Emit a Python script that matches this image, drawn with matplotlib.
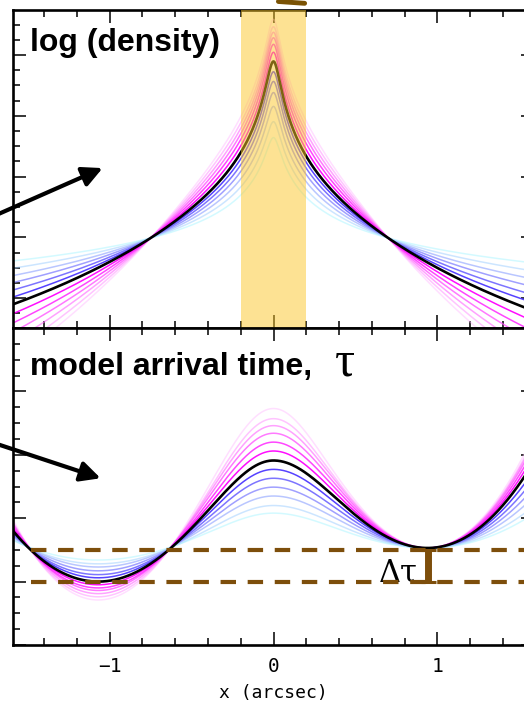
"""透镜模型：密度剖面族与对应的到达时间曲线。"""

import numpy as np
import matplotlib

matplotlib.use("Agg")
from matplotlib import pyplot as plt
from matplotlib.ticker import MultipleLocator

plt.rcParams["font.family"] = ["Liberation Sans", "DejaVu Sans"]

# 曲线族按顺序排列：最浅的品红（最陡）-> 黑色参考模型（第 7 条）-> 最浅的青色（最平）
# 上图：log(density) = 交点值 + 内部项 + 外部项
dens_inner_slope = [1.027, 1.020, 1.028, 1.035, 1.033, 1.021, 1.000,
                    0.959, 0.922, 0.876, 0.807, 0.729, 0.646]
dens_outer_slope = [3.06, 2.72, 2.35, 1.99, 1.65, 1.32, 1.00,
                    0.79, 0.58, 0.37, 0.21, 0.05, -0.10]
dens_core = 0.05
dens_break = 1.0
dens_cross = 0.99            # 所有剖面相交处的 log(density)
r_cross = [0.75, 0.70]       # 左右两侧相交半径 (arcsec)
band = [-0.2, 0.2]           # 黄色区域

# 下图：到达时间。A、B 两个像的位置，B 处所有曲线取同一值
x_img = [-1.07, 0.94]
tau_B = 1.53
tau_peak = [3.73, 3.57, 3.46, 3.34, 3.20, 3.06, 2.91, 2.77, 2.63, 2.49, 2.35, 2.20, 2.08]
tau_A = [0.71, 0.76, 0.81, 0.86, 0.90, 0.95, 1.00, 1.06, 1.11, 1.17, 1.23, 1.28, 1.34]
core_left = 0.35
core_right = [0.28, 0.30, 0.32, 0.34, 0.36, 0.38, 0.40, 0.40, 0.40, 0.40, 0.40, 0.40, 0.40]
dash_levels = [1.5, 1.0]
dash_start = -1.48

# 颜色：靠近黑线的最饱和，越远越浅
magenta = [(1.0, 0.72, 1.0, 0.45), (1.0, 0.58, 1.0, 0.55), (1.0, 0.44, 1.0, 0.65),
           (1.0, 0.30, 1.0, 0.75), (1.0, 0.15, 1.0, 0.85), (1.0, 0.0, 1.0, 0.95)]
blue = [(0.30, 0.22, 1.0, 0.95), (0.40, 0.36, 1.0, 0.85), (0.50, 0.50, 1.0, 0.75),
        (0.58, 0.66, 1.0, 0.65), (0.64, 0.82, 1.0, 0.55), (0.66, 0.96, 1.0, 0.5)]
colors = magenta + ["black"] + blue
brown = "#7d4e0b"


def log_density(x, i):
    r = np.where(x < 0, -x / r_cross[0], x / r_cross[1])
    inner = -dens_inner_slope[i] * np.log10((r**2 + dens_core**2) / (1 + dens_core**2))
    outer = -dens_outer_slope[i] * np.log10((r**2 + dens_break**2) / (1 + dens_break**2))
    return dens_cross + inner + outer


def arrival_side(x, peak, xi, tau_i, s):
    # 0.5 a x^2 - w sqrt(x^2 + s^2)，在 xi 处取极小值 tau_i，在 0 处取极大值 peak
    R = np.hypot(xi, s)
    a = (peak - tau_i) / (0.5 * xi**2 + s**2 - s * R)
    w = a * R
    return peak + w * s + 0.5 * a * x**2 - w * np.sqrt(x**2 + s**2)


def arrival_time(x, i):
    left = arrival_side(x, tau_peak[i], x_img[0], tau_A[i], core_left)
    right = arrival_side(x, tau_peak[i], x_img[1], tau_B, core_right[i])
    return np.where(x < 0, left, right)


x = np.linspace(-1.59, 1.59, 1200)

fig = plt.figure(figsize=(5.24, 7.04), dpi=100)
ax1 = fig.add_axes([13 / 524, 376 / 704, 521 / 524, 318 / 704])
ax2 = fig.add_axes([13 / 524, 59 / 704, 521 / 524, 317 / 704])

for i, c in enumerate(colors):
    black = c == "black"
    ax1.plot(x, log_density(x, i), color=c,
             lw=1.9 if black else 1.1, zorder=3 if black else 2)
    ax2.plot(x, arrival_time(x, i), color=c,
             lw=1.9 if black else 1.1, zorder=3 if black else 2)

# 黄色区域覆盖在曲线和坐标轴上
ax1.axvspan(band[0], band[1], facecolor=(0.99, 0.78, 0.16), alpha=0.5, lw=0, zorder=10)
# 上方被裁掉的棕色标记的残留部分
ax1.plot([0.03, 0.19], [4.88, 4.85], color="#7a5204", lw=3.5,
         solid_capstyle="round", clip_on=False)

for lev in dash_levels:
    ax2.plot([dash_start, 1.59], [lev, lev], color=brown, lw=3.0,
             dashes=(3.7, 2.8), dash_capstyle="butt", zorder=4)
ax2.errorbar(x_img[1], np.mean(dash_levels), yerr=np.ptp(dash_levels) / 2, fmt="none",
             ecolor=brown, elinewidth=5, capsize=5.4, capthick=2.2, zorder=5)
ax2.text(0.88, 1.01, "Δτ", ha="right", va="baseline", fontsize=22,
         fontfamily="DejaVu Serif")

ax1.text(0.033, 0.943, "log (density)", transform=ax1.transAxes, fontsize=23,
         fontweight="bold", ha="left", va="top")
ax2.text(0.033, 0.923, "model arrival time,", transform=ax2.transAxes, fontsize=23,
         fontweight="bold", ha="left", va="top")
ax2.text(0.375, 4.25, "τ", fontsize=36, fontfamily="Liberation Serif",
         ha="left", va="baseline")

arrow = dict(arrowstyle="-|>,head_length=0.6,head_width=0.3", lw=3, color="k",
             shrinkA=0, shrinkB=0, mutation_scale=20)
ax1.annotate("", xy=(-1.043, 2.14), xytext=(-1.91, 1.11), arrowprops=arrow,
             annotation_clip=False)
ax2.annotate("", xy=(-1.055, 2.63), xytext=(-1.91, 3.36), arrowprops=arrow,
             annotation_clip=False)

ax1.set_ylim(-0.49, 4.74)
ax2.set_ylim(0, 5)
for ax in (ax1, ax2):
    ax.set_xlim(-1.59, 1.59)
    ax.xaxis.set_major_locator(MultipleLocator(1))
    ax.xaxis.set_minor_locator(MultipleLocator(0.2))
    ax.yaxis.set_major_locator(MultipleLocator(1))
    ax.yaxis.set_minor_locator(MultipleLocator(0.25))
    ax.tick_params(which="both", direction="in", top=True, right=True, width=1.1,
                   labelleft=False)
    ax.tick_params(which="major", length=9.5)
    ax.tick_params(which="minor", length=4.7)
    for sp in ax.spines.values():
        sp.set_linewidth(1.9)

ax1.tick_params(labelbottom=False)
ax2.tick_params(labelsize=14, labelfontfamily="DejaVu Sans Mono", pad=8.5)
ax2.set_xlabel("x (arcsec)", fontfamily="DejaVu Sans Mono", fontsize=13, labelpad=6)

fig.savefig("out.png", dpi=100)
